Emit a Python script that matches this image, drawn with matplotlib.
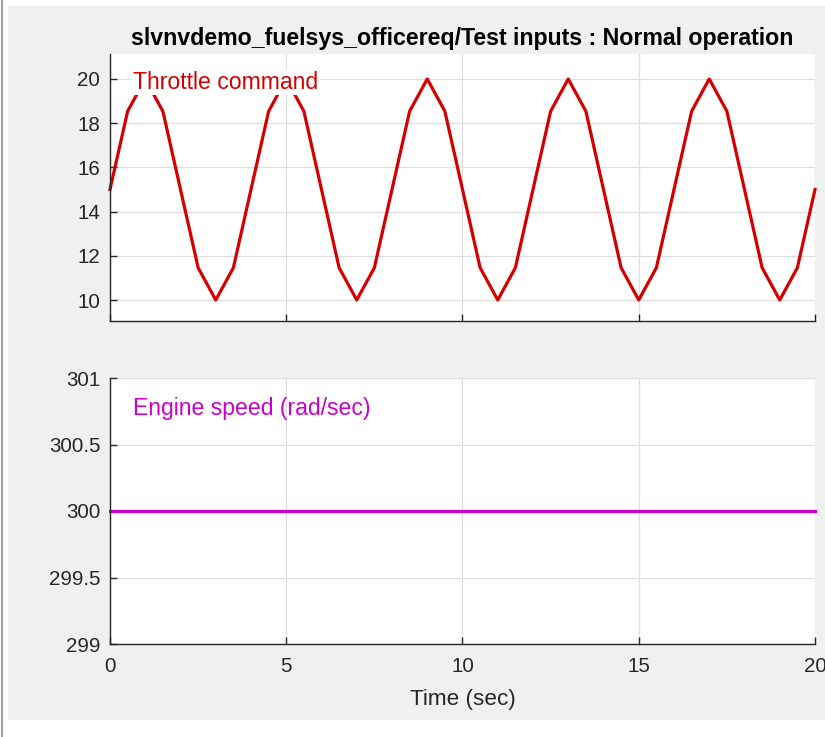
import numpy as np
import matplotlib.pyplot as plt
from matplotlib.patches import Rectangle
from matplotlib.lines import Line2D

plt.rcParams['font.family'] = ['Liberation Sans', 'DejaVu Sans']

# sampled every 0.5 s
time = [0.0, 0.5, 1.0, 1.5, 2.0, 2.5, 3.0, 3.5, 4.0, 4.5,
        5.0, 5.5, 6.0, 6.5, 7.0, 7.5, 8.0, 8.5, 9.0, 9.5,
        10.0, 10.5, 11.0, 11.5, 12.0, 12.5, 13.0, 13.5, 14.0, 14.5,
        15.0, 15.5, 16.0, 16.5, 17.0, 17.5, 18.0, 18.5, 19.0, 19.5, 20.0]
throttle = [15, 18.54, 20, 18.54, 15, 11.46, 10, 11.46,
            15, 18.54, 20, 18.54, 15, 11.46, 10, 11.46,
            15, 18.54, 20, 18.54, 15, 11.46, 10, 11.46,
            15, 18.54, 20, 18.54, 15, 11.46, 10, 11.46,
            15, 18.54, 20, 18.54, 15, 11.46, 10, 11.46, 15]
engine_speed = [300] * len(time)

x_ticks = [0, 5, 10, 15, 20]
top_yticks = [10, 12, 14, 16, 18, 20]
bot_yticks = [299, 299.5, 300, 300.5, 301]
bot_ylabels = ['299', '299.5', '300', '300.5', '301']

W, H = 825, 737
fig = plt.figure(figsize=(W / 100, H / 100), dpi=100, facecolor='white')

# gray panel and left border line
fig.add_artist(Rectangle((8 / W, (H - 720) / H), (W - 8) / W, 714 / H,
                         transform=fig.transFigure, facecolor='#f0f0f0',
                         edgecolor='none', zorder=-10))
fig.add_artist(Line2D([1.5 / W, 1.5 / W], [0, 1], transform=fig.transFigure,
                      color='#a0a0a0', lw=1.5, zorder=-10))

ax1 = fig.add_axes([110 / W, (H - 321) / H, 705 / W, 267 / H])
ax2 = fig.add_axes([110 / W, (H - 644) / H, 705 / W, 266 / H])

for ax in (ax1, ax2):
    ax.set_facecolor('white')
    ax.set_xlim(0, 20)
    ax.set_xticks(x_ticks)
    ax.grid(True, color='#dedede', lw=0.9)
    ax.set_axisbelow(True)
    for s in ('top', 'right'):
        ax.spines[s].set_visible(False)
    for s in ('left', 'bottom'):
        ax.spines[s].set_color('#262626')
        ax.spines[s].set_linewidth(1.0)
    ax.tick_params(direction='in', length=5, width=1.0, color='#262626',
                   labelsize=14.8, labelcolor='#262626')
    ax.tick_params(axis='y', pad=7)
    ax.tick_params(axis='x', pad=9.5)

ax1.plot(time, throttle, color='#d40000', lw=2.3, clip_on=False)
ax1.set_ylim(9.05, 21.13)
ax1.set_yticks(top_yticks)
ax1.tick_params(labelbottom=False)
ax1.text(0.033, 0.893, 'Throttle command', transform=ax1.transAxes,
         color='#d40000', fontsize=16.6, va='center', ha='left',
         bbox=dict(facecolor='white', edgecolor='none', pad=1))
ax1.set_title('slvnvdemo_fuelsys_officereq/Test inputs : Normal operation',
              fontsize=16.7, fontweight='bold', pad=6.5)

ax2.plot(time, engine_speed, color='#cc00cc', lw=2.3, clip_on=False)
ax2.set_ylim(299, 301)
ax2.set_yticks(bot_yticks)
ax2.set_yticklabels(bot_ylabels)
ax2.text(0.033, 0.885, 'Engine speed (rad/sec)', transform=ax2.transAxes,
         color='#cc00cc', fontsize=16.6, va='center', ha='left')
ax2.set_xlabel('Time (sec)', fontsize=16.2, color='#262626', labelpad=9)

fig.savefig('out.png', dpi=100)
